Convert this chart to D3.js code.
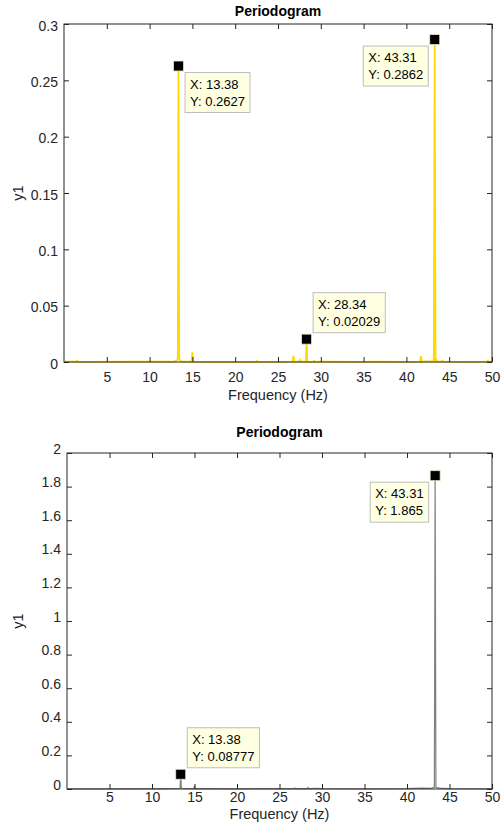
<!DOCTYPE html>
<html>
<head>
<meta charset="utf-8">
<script src="https://cdn.jsdelivr.net/npm/d3@7"></script>
<style>
  html, body { margin: 0; padding: 0; background: #fff; }
  svg { display: block; font-family: "Liberation Sans", Arial, sans-serif; }
</style>
</head>
<body>
<svg id="chart" width="504" height="825"></svg>
<script>
// ---------- data ----------
const freq1 = [0.1, 1.4, 1.5, 1.6, 3, 7.5, 12.9, 13.2, 13.3, 13.38, 13.46, 13.55, 13.8, 14.9, 15.0, 15.1, 17.5, 20, 22.4, 22.5, 22.6, 25, 26.7, 26.8, 26.9, 27.5, 27.6, 27.7, 28.26, 28.34, 28.42, 29.1, 29.2, 29.3, 30, 35, 36, 40, 41.6, 41.7, 41.8, 43.2, 43.31, 43.4, 43.5, 43.6, 44.1, 44.2, 44.3, 47, 49.4, 49.5, 49.6, 50];
const power1 = [0.0003, 0.0003, 0.0012, 0.0003, 0.0002, 0.0003, 0.0004, 0.0015, 0.003, 0.2627, 0.003, 0.0012, 0.0004, 0.0003, 0.0085, 0.0003, 0.0002, 0.0002, 0.0002, 0.0010, 0.0002, 0.0002, 0.0003, 0.0055, 0.0003, 0.0003, 0.0018, 0.0003, 0.0004, 0.02029, 0.0004, 0.0002, 0.0012, 0.0002, 0.0003, 0.0002, 0.0003, 0.0002, 0.0004, 0.0052, 0.0004, 0.0008, 0.2862, 0.0009, 0.002, 0.0005, 0.0003, 0.0012, 0.0003, 0.0002, 0.0003, 0.0012, 0.0003, 0.0003];

const freq2 = [0.1, 5, 12, 13.2, 13.3, 13.38, 13.46, 13.6, 14.9, 15.0, 15.1, 17, 20, 22.5, 25, 26.7, 26.8, 26.9, 28.26, 28.34, 28.42, 29.2, 30, 35, 40, 41.7, 42.8, 43.22, 43.31, 43.4, 43.8, 44.2, 45, 50];
const power2 = [0.001, 0.001, 0.002, 0.003, 0.005, 0.08777, 0.005, 0.003, 0.002, 0.015, 0.002, 0.002, 0.001, 0.003, 0.002, 0.002, 0.006, 0.002, 0.002, 0.008, 0.002, 0.004, 0.002, 0.001, 0.002, 0.005, 0.004, 0.01, 1.865, 0.01, 0.005, 0.004, 0.002, 0.001];

const xTicks = [5, 10, 15, 20, 25, 30, 35, 40, 45, 50];
const yTicks1 = [0, 0.05, 0.1, 0.15, 0.2, 0.25, 0.3];
const yTicks2 = [0, 0.2, 0.4, 0.6, 0.8, 1, 1.2, 1.4, 1.6, 1.8, 2];

// datatips: x, y, placement
const tips1 = [
  { x: 13.38, y: 0.2627, place: "br" },
  { x: 28.34, y: 0.02029, place: "tr" },
  { x: 43.31, y: 0.2862, place: "bl" }
];
const tips2 = [
  { x: 13.38, y: 0.08777, place: "tr" },
  { x: 43.31, y: 1.865, place: "bl" }
];

// ---------- drawing ----------
const svg = d3.select("#chart");
const axisColor = "#262626";

function panel(cfg) {
  const { left, right, top, bottom, yDomain, yTicks, freq, power, color, width, tips, yFmt,
          xPad, yDy, xLabelOff, titleOff } = cfg;
  const x = d3.scaleLinear().domain([0, 50]).range([left, right]);
  const y = d3.scaleLinear().domain(yDomain).range([bottom, top]);
  const g = svg.append("g");

  // data line
  const pts = freq.map((f, i) => [f, power[i]]);
  g.append("path")
    .datum(pts)
    .attr("fill", "none")
    .attr("stroke", color)
    .attr("stroke-width", width)
    .attr("stroke-linejoin", "miter")
    .attr("d", d3.line().x(d => x(d[0])).y(d => y(d[1])));

  // axes (ticks inward)
  const tl = 5;
  const ax = g.append("g").attr("transform", `translate(0,${bottom})`)
    .call(d3.axisBottom(x).tickValues(xTicks).tickSize(-tl).tickPadding(xPad).tickFormat(d3.format("d")));
  const axT = g.append("g").attr("transform", `translate(0,${top})`)
    .call(d3.axisTop(x).tickValues(xTicks).tickSize(-tl).tickFormat(""));
  const ay = g.append("g").attr("transform", `translate(${left},0)`)
    .call(d3.axisLeft(y).tickValues(yTicks).tickSize(-tl).tickPadding(6).tickFormat(yFmt));
  const ayR = g.append("g").attr("transform", `translate(${right},0)`)
    .call(d3.axisRight(y).tickValues(yTicks).tickSize(-tl).tickFormat(""));
  [ax, axT, ay, ayR].forEach(a => {
    a.select(".domain").remove();
    a.selectAll("line").attr("stroke", axisColor);
    a.selectAll("text").attr("fill", axisColor).style("font-size", "14px").style("font-family", '"Liberation Sans", Arial, sans-serif');
  });
  ay.selectAll("text").attr("dy", `calc(0.32em + ${yDy}px)`);
  ay.selectAll("text").each(function () {
    d3.select(this).attr("dy", null).attr("y", yDy).attr("dominant-baseline", "central");
  });
  // box
  g.append("rect").attr("x", left).attr("y", top).attr("width", right - left).attr("height", bottom - top)
    .attr("fill", "none").attr("stroke", axisColor).attr("stroke-width", 1);

  // title
  g.append("text").attr("x", (left + right) / 2).attr("y", top - titleOff)
    .attr("text-anchor", "middle").attr("font-weight", "bold").attr("font-size", 14).attr("fill", "#000")
    .text("Periodogram");
  // x label
  g.append("text").attr("x", (left + right) / 2).attr("y", bottom + xLabelOff)
    .attr("text-anchor", "middle").attr("font-size", 14.5).attr("fill", axisColor)
    .text("Frequency (Hz)");
  // y label
  g.append("text").attr("transform", `translate(23,${(top + bottom) / 2}) rotate(-90)`)
    .attr("text-anchor", "middle").attr("font-size", 14.5).attr("fill", axisColor)
    .text("y1");

  // datatips
  tips.forEach(t => {
    const px = x(t.x), py = y(t.y);
    const tg = g.append("g");
    const rect = tg.append("rect").attr("fill", "#FFFFE1").attr("stroke", "#BDBDBD").attr("stroke-width", 1);
    const t1 = tg.append("text").attr("font-size", 13).attr("fill", "#000").text("X: " + t.x);
    const t2 = tg.append("text").attr("font-size", 13).attr("fill", "#000").text("Y: " + t.y);
    const w = Math.max(t1.node().getComputedTextLength(), t2.node().getComputedTextLength()) + 10;
    const h = 40;
    const off = 6.5;
    let bx = t.place.includes("r") ? px + off : px - off - w;
    let by = t.place.includes("b") ? py + off : py - off - h;
    rect.attr("x", bx).attr("y", by).attr("width", w).attr("height", h);
    t1.attr("x", bx + 5).attr("y", by + 16);
    t2.attr("x", bx + 5).attr("y", by + 33);
    g.append("rect").attr("x", px - 5).attr("y", py - 5).attr("width", 10).attr("height", 10)
      .attr("fill", "#000").attr("stroke", "#E8E8C8").attr("stroke-width", 0.8);
  });
}

panel({ left: 64, right: 492, top: 24, bottom: 362, yDomain: [0, 0.3], yTicks: yTicks1,
  freq: freq1, power: power1, color: "#FFD900", width: 1.8, tips: tips1, yFmt: d3.format("~g"),
  xPad: 10, yDy: 1, xLabelOff: 38, titleOff: 8 });
panel({ left: 67, right: 492, top: 453, bottom: 789, yDomain: [0, 2], yTicks: yTicks2,
  freq: freq2, power: power2, color: "#808080", width: 1.2, tips: tips2, yFmt: d3.format("~g"),
  xPad: 3, yDy: -5, xLabelOff: 30, titleOff: 16 });
</script>
</body>
</html>
